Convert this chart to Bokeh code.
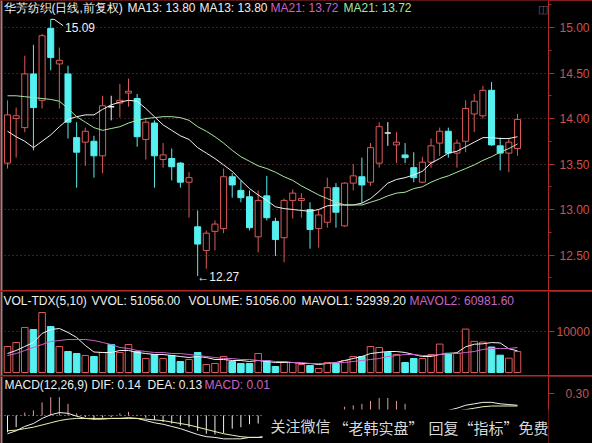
from bokeh.plotting import figure
from bokeh.models import (Range1d, SingleIntervalTicker, FixedTicker, Label, Span,
                          PrintfTickFormatter, Column)
from bokeh.embed import file_html
from bokeh.resources import INLINE

# ---------------- data: 华芳纺织 daily bars (forward adjusted) ----------------
opens = [13.51, 14.00, 13.90, 14.49, 14.20, 14.99, 14.60, 14.49, 13.79, 13.74,
         13.75, 13.59, 14.13, 14.17, 14.28, 14.22, 13.77, 13.95, 13.55, 13.56,
         13.51, 13.30, 12.81, 12.55, 12.76, 12.79, 13.36, 13.21, 13.14, 12.70,
         13.15, 12.87, 12.69, 13.10, 13.10, 13.00, 12.79, 12.86, 13.24, 12.82,
         13.29, 13.36, 13.30, 13.51, 13.84, 13.71, 13.60, 13.46, 13.30, 13.52,
         13.73, 13.86, 13.62, 13.75, 14.05, 14.03, 14.31, 13.70, 13.62, 13.67]
highs = [14.20, 14.12, 14.69, 14.81, 14.93, 15.09, 14.78, 14.58, 13.96, 13.90,
         13.81, 14.25, 14.25, 14.38, 14.44, 14.27, 14.01, 13.98, 13.73, 13.67,
         13.52, 13.41, 12.99, 12.77, 12.88, 13.45, 13.40, 13.32, 13.21, 13.21,
         13.37, 12.91, 13.12, 13.22, 13.18, 13.08, 13.00, 13.35, 13.29, 13.30,
         13.50, 13.57, 13.73, 13.96, 13.96, 13.85, 13.73, 13.63, 13.58, 13.78,
         13.90, 13.90, 13.77, 14.20, 14.27, 14.36, 14.40, 13.79, 13.79, 14.05]
lows = [13.45, 13.57, 13.85, 13.65, 14.11, 14.53, 14.11, 13.78, 13.24, 13.48,
        13.35, 13.40, 13.98, 14.01, 14.13, 13.69, 13.55, 13.24, 13.46, 13.32,
        13.24, 12.91, 12.27, 12.35, 12.55, 12.74, 13.13, 13.08, 12.77, 12.53,
        12.88, 12.49, 12.42, 12.90, 12.91, 12.57, 12.58, 12.80, 12.80, 12.81,
        13.21, 13.07, 13.26, 13.46, 13.70, 13.51, 13.51, 13.30, 13.29, 13.46,
        13.59, 13.57, 13.46, 13.63, 13.85, 14.00, 13.70, 13.43, 13.41, 13.59]
closes = [14.04, 14.03, 14.49, 14.12, 14.91, 14.67, 14.64, 13.96, 13.63, 13.86,
          13.59, 14.14, 14.13, 14.20, 14.30, 13.80, 13.96, 13.59, 13.60, 13.47,
          13.30, 13.35, 12.62, 12.74, 12.84, 13.36, 13.27, 13.13, 12.80, 13.10,
          12.91, 12.67, 13.10, 13.18, 13.12, 12.78, 12.94, 13.24, 12.97, 13.29,
          13.37, 13.27, 13.68, 13.91, 13.84, 13.74, 13.57, 13.35, 13.52, 13.70,
          13.86, 13.62, 13.73, 14.11, 14.19, 14.31, 13.71, 13.62, 13.74, 13.99]
ma13 = [13.86, 13.80, 13.75, 13.68, 13.75, 13.82, 13.91, 13.99, 14.02, 14.04,
        14.04, 14.10, 14.15, 14.18, 14.20, 14.19, 14.11, 14.02, 13.93, 13.87,
        13.81, 13.77, 13.68, 13.62, 13.56, 13.49, 13.42, 13.32, 13.23, 13.16,
        13.10, 13.03, 13.01, 13.00, 12.99, 12.98, 13.00, 13.04, 13.05, 13.05,
        13.05, 13.07, 13.12, 13.20, 13.29, 13.33, 13.35, 13.38, 13.42, 13.51,
        13.56, 13.62, 13.64, 13.69, 13.74, 13.79, 13.79, 13.78, 13.78, 13.80]
ma21 = [14.25, 14.25, 14.24, 14.23, 14.22, 14.21, 14.19, 14.11, 14.02, 13.96,
        13.90, 13.87, 13.89, 13.91, 13.95, 13.98, 14.00, 14.01, 14.02, 14.02,
        14.01, 13.98, 13.91, 13.86, 13.80, 13.73, 13.65, 13.58, 13.53, 13.48,
        13.45, 13.41, 13.36, 13.32, 13.26, 13.21, 13.16, 13.12, 13.08, 13.05,
        13.05, 13.05, 13.08, 13.11, 13.15, 13.18, 13.19, 13.23, 13.25, 13.30,
        13.34, 13.37, 13.41, 13.45, 13.49, 13.54, 13.58, 13.63, 13.67, 13.72]
volumes = [63400, 73200, 109800, 104900, 146300, 112200, 63400, 51200, 46300, 41500,
           39000, 48800, 68300, 48800, 68300, 51200, 34100, 43900, 34100, 41500,
           26800, 31700, 48800, 19500, 22000, 39000, 26800, 22000, 22000, 46300,
           29300, 14600, 26800, 24400, 19500, 17100, 9800, 24400, 22000, 29300,
           39000, 39000, 63400, 61000, 48800, 43900, 24400, 34100, 34100, 43900,
           69300, 47000, 47020, 105900, 75900, 74200, 62200, 42300, 34940, 51056]
mavol5 = [46300, 53700, 63400, 73200, 95100, 104900, 107300, 97600, 85400, 66000,
          50000, 48800, 48800, 53700, 53700, 48800, 46300, 43900, 43900, 41500,
          39000, 36600, 39000, 36600, 31700, 31700, 29300, 29300, 26800, 29300,
          26800, 24400, 24400, 24400, 22000, 22000, 19500, 22000, 24400, 29300,
          34100, 39000, 46300, 48800, 51200, 51200, 48800, 43900, 39000, 39000,
          43900, 46300, 48300, 62600, 69000, 70000, 73000, 72100, 57900, 52939.2]
mavol10 = [41500, 46300, 53700, 61000, 68300, 75600, 78000, 80500, 80500, 80500,
           78000, 73200, 68300, 61000, 58500, 53700, 51200, 48800, 48800, 46300,
           46300, 43900, 41500, 39000, 36600, 34100, 34100, 31700, 31700, 29300,
           29300, 26800, 26800, 24400, 24400, 22000, 22000, 22000, 24400, 24400,
           26800, 29300, 31700, 34100, 39000, 41500, 43900, 43900, 41500, 41500,
           43900, 46300, 46300, 48800, 51200, 56100, 58500, 58500, 58500, 60981.6]
dif = [-0.25, -0.21, -0.15, -0.11, -0.04, 0.01, 0.04, 0.03, -0.01, -0.04,
       -0.05, -0.05, -0.04, -0.04, -0.03, -0.04, -0.07, -0.10, -0.12, -0.15,
       -0.18, -0.22, -0.26, -0.29, -0.30, -0.32, -0.32, -0.32, -0.30, -0.30,
       -0.28, -0.26, -0.23, -0.20, -0.17, -0.13, -0.10, -0.07, -0.05, -0.03,
       -0.01, 0.01, 0.02, 0.03, 0.04, 0.04, 0.04, 0.04, 0.04, 0.05,
       0.06, 0.07, 0.10, 0.14, 0.16, 0.18, 0.18, 0.16, 0.15, 0.14]
dea = [-0.21, -0.20, -0.18, -0.16, -0.13, -0.10, -0.07, -0.05, -0.04, -0.04,
       -0.04, -0.04, -0.04, -0.04, -0.04, -0.04, -0.05, -0.06, -0.07, -0.09,
       -0.11, -0.13, -0.16, -0.19, -0.22, -0.25, -0.27, -0.29, -0.30, -0.30,
       -0.30, -0.29, -0.28, -0.26, -0.24, -0.22, -0.19, -0.16, -0.13, -0.10,
       -0.08, -0.06, -0.04, -0.02, -0.01, 0.00, 0.01, 0.02, 0.03, 0.03,
       0.04, 0.05, 0.06, 0.08, 0.10, 0.12, 0.13, 0.13, 0.13, 0.13]
macd = [-0.23, -0.16, 0.04, 0.07, 0.18, 0.25, 0.25, 0.16, 0.03, -0.02,
        -0.06, -0.03, -0.02, 0.03, 0.05, 0.01, -0.03, -0.06, -0.09, -0.11,
        -0.14, -0.16, -0.21, -0.25, -0.26, -0.24, -0.18, -0.16, -0.12, -0.11,
        -0.10, -0.08, -0.06, -0.03, -0.01, 0.01, 0.03, 0.06, 0.08, 0.12,
        0.14, 0.16, 0.20, 0.24, 0.24, 0.20, 0.16, 0.06, 0.04, 0.03,
        0.03, 0.02, 0.02, 0.05, 0.06, 0.07, 0.05, 0.02, 0.01, 0.01]
vol_ticks = [100000]
vol_tick_labels = {100000: "10000"}
macd_ticks = [0.30]

# ---------------- styling ----------------
W = 592
RIGHT = 43
BG = "#000000"
RED_LINE = "#b02a2a"
AX_TXT = "#cc5252"
GRID = "#784646"
UP = "#dc5a5a"
DOWN = "#55f0f0"
FLAT = "#f0f0f0"
WHITE = "#f0f0f0"
MAGENTA = "#c864c8"
LGREEN = "#a8e6a0"
PALE_YELLOW = "#f0f0b0"
PINK = "#e09a9a"
FONT = "Liberation Sans"
CJK = "Noto Sans CJK SC"

n = len(closes)
xs = list(range(n))
x_range = Range1d(-0.81, 62.59)


def panel(height, y_start, y_end):
    p = figure(width=W, height=height, x_range=x_range, y_range=Range1d(y_start, y_end),
               output_backend="svg", toolbar_location=None, x_axis_location=None,
               y_axis_location="right", min_border_left=0, min_border_right=RIGHT,
               min_border_top=0, min_border_bottom=0, background_fill_color=BG,
               border_fill_color=BG, outline_line_color=None)
    p.xgrid.grid_line_color = None
    ax = p.yaxis[0]
    ax.axis_line_color = RED_LINE
    ax.major_tick_line_color = RED_LINE
    ax.minor_tick_line_color = RED_LINE
    ax.major_tick_in = 0
    ax.major_tick_out = 6
    ax.minor_tick_in = 0
    ax.minor_tick_out = 3
    ax.major_label_text_color = AX_TXT
    ax.major_label_text_font = FONT
    ax.major_label_text_font_size = "12px"
    p.ygrid.grid_line_color = GRID
    p.ygrid.grid_line_dash = "1 3"
    p.add_layout(Span(location=-0.70, dimension="height", line_color="#8c8c8c", line_width=2))
    return p


def add_text(p, x, y, text, color=WHITE, size="12px", font=FONT, **kw):
    p.add_layout(Label(x=x, y=y, x_units="screen", y_units="screen", text=text,
                       text_color=color, text_font=font, text_font_size=size,
                       text_baseline="middle", text_align="left", **kw))


# ---------------- price panel ----------------
p1 = panel(290, 12.110, 15.297)
p1.yaxis[0].ticker = SingleIntervalTicker(interval=0.5, num_minor_ticks=2)
p1.yaxis[0].formatter = PrintfTickFormatter(format="%.2f")
p1.yaxis[0].major_label_standoff = 5

up = [i for i in xs if closes[i] > opens[i]]
dn = [i for i in xs if closes[i] < opens[i]]
fl = [i for i in xs if closes[i] == opens[i]]
hw = 0.35

for group, color, fill in ((up, UP, BG), (dn, DOWN, DOWN)):
    tops = [max(opens[i], closes[i]) for i in group]
    bots = [min(opens[i], closes[i]) for i in group]
    p1.segment(x0=group, y0=[highs[i] for i in group], x1=group, y1=tops, line_color=color, line_width=1)
    p1.segment(x0=group, y0=bots, x1=group, y1=[lows[i] for i in group], line_color=color, line_width=1)
    p1.quad(left=[i - hw for i in group], right=[i + hw for i in group], top=tops, bottom=bots,
            fill_color=fill, line_color=color, line_width=1)
p1.segment(x0=fl, y0=[highs[i] for i in fl], x1=fl, y1=[lows[i] for i in fl], line_color=FLAT)
p1.segment(x0=[i - hw for i in fl], y0=[closes[i] for i in fl], x1=[i + hw for i in fl],
           y1=[closes[i] for i in fl], line_color=FLAT, line_width=1.5)

p1.line(xs, ma13, line_color=WHITE, line_width=1)
p1.line(xs, ma21, line_color=LGREEN, line_width=1)

# extreme markers
hmax = max(highs)
hi_i = highs.index(hmax)
lmin = min(lows)
lo_i = lows.index(lmin)
p1.line([hi_i, hi_i + 0.4, hi_i + 1.45], [hmax, hmax, hmax - 0.07], line_color=WHITE, line_width=1)
p1.add_layout(Label(x=hi_i + 1.65, y=hmax - 0.085, text=f"{hmax:.2f}", text_color=WHITE,
                    text_font=FONT, text_font_size="12px", text_baseline="middle"))
p1.add_layout(Label(x=lo_i - 0.05, y=lmin - 0.01, text=f"\u2190{lmin:.2f}", text_color=WHITE,
                    text_font=FONT, text_font_size="12px", text_baseline="middle"))

add_text(p1, 3, 283, "华芳纺织(日线,前复权)")
add_text(p1, 127, 283, f"MA13: {ma13[-1]:.2f}")
add_text(p1, 199, 283, f"MA13: {ma13[-1]:.2f}")
add_text(p1, 270, 283, f"MA21: {ma21[-1]:.2f}", MAGENTA)
add_text(p1, 343, 283, f"MA21: {ma21[-1]:.2f}", LGREEN)
add_text(p1, 537, 282, "\u25eb", "#8a5858", "11px")

# ---------------- volume panel ----------------
p2 = panel(84, -7317, 197561)
p2.yaxis[0].ticker = FixedTicker(ticks=vol_ticks)
p2.yaxis[0].major_label_overrides = vol_tick_labels
p2.yaxis[0].major_label_standoff = 2

vw = 0.38
vup = up
vdn = dn + fl
p2.quad(left=[i - vw for i in vup], right=[i + vw for i in vup], top=[volumes[i] for i in vup],
        bottom=0, fill_color=BG, line_color=UP, line_width=1)
p2.quad(left=[i - vw for i in vdn], right=[i + vw for i in vdn], top=[volumes[i] for i in vdn],
        bottom=0, fill_color=DOWN, line_color=DOWN, line_width=1)
p2.line(xs, mavol5, line_color=WHITE, line_width=1)
p2.line(xs, mavol10, line_color=MAGENTA, line_width=1)

add_text(p2, 3, 75, "VOL-TDX(5,10)")
add_text(p2, 91, 75, f"VVOL: {volumes[-1]:.2f}")
add_text(p2, 188, 75, f"VOLUME: {volumes[-1]:.2f}")
add_text(p2, 301, 75, f"MAVOL1: {mavol5[-1]:.2f}")
add_text(p2, 409, 75, f"MAVOL2: {mavol10[-1]:.2f}", MAGENTA)
p2.add_layout(Label(x=552, y=12, x_units="screen", y_units="screen", text="X10",
                    text_color=AX_TXT, text_font=FONT, text_font_size="12px",
                    text_baseline="middle", border_line_color=RED_LINE,
                    padding=dict(left=1, right=1, top=0, bottom=0)))

# ---------------- MACD panel ----------------
p3 = panel(67, -0.3836, 0.5342)
p3.yaxis[0].ticker = FixedTicker(ticks=macd_ticks)
p3.yaxis[0].formatter = PrintfTickFormatter(format="%.2f")
p3.yaxis[0].major_label_standoff = 11
p3.ygrid.ticker = FixedTicker(ticks=[0])
p3.ygrid.grid_line_color = "#b4b4b4"

pos = [i for i in xs if macd[i] >= 0]
neg = [i for i in xs if macd[i] < 0]
p3.segment(x0=pos, y0=0, x1=pos, y1=[macd[i] for i in pos], line_color=PINK, line_width=1)
p3.segment(x0=neg, y0=0, x1=neg, y1=[macd[i] for i in neg], line_color=WHITE, line_width=1)
p3.line(xs, dif, line_color=WHITE, line_width=1)
p3.line(xs, dea, line_color=PALE_YELLOW, line_width=1)

add_text(p3, 4, 59, "MACD(12,26,9)")
add_text(p3, 91, 59, f"DIF: {dif[-1]:.2f}")
add_text(p3, 147, 59, f"DEA: {dea[-1]:.2f}")
add_text(p3, 204, 59, f"MACD: {macd[-1]:.2f}", MAGENTA)

# overlay caption in the lower right corner on a dark plate, kept within the
# plotting area so every character is drawn
CAP = "#d8d8d8"
add_text(p3, 262, 16, "关注微信", CAP, "15px", CJK,
         background_fill_color=BG, background_fill_alpha=1.0,
         padding=dict(left=8, right=270, top=5, bottom=10))
add_text(p3, 333, 16, "“老韩实盘”", CAP, "15px", CJK)
add_text(p3, 428, 16, "回复“指标”免费领", CAP, "15px", CJK)

layout = Column(children=[p1, p2, p3], spacing=1, styles={"background-color": RED_LINE})

open("out.html", "w").write(file_html(layout, INLINE))
